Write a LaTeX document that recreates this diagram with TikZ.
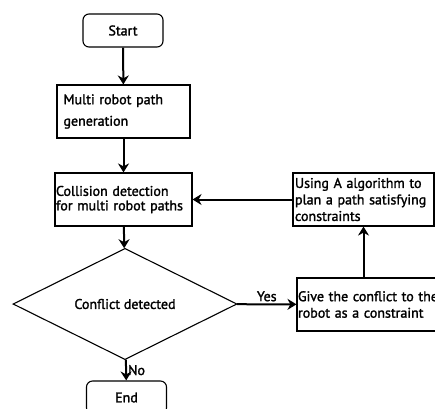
\documentclass[tikz,border=0pt]{standalone}
\usepackage{fontspec}
\setmainfont{PT Sans}[FakeBold=1.6]
\usetikzlibrary{shapes.geometric,arrows.meta}

\begin{document}
\begin{tikzpicture}[x=1pt,y=-1pt,
    font=\fontsize{14}{14.5}\selectfont,
    termbox/.style={draw,line width=1.1pt,rounded corners=6pt,
        minimum width=80pt,minimum height=33pt},
    procbox/.style={draw,line width=1.1pt,align=left,inner ysep=0pt,
        minimum height=53pt},
    decbox/.style={draw,diamond,line width=1.1pt,inner sep=0pt,
        minimum width=224pt,minimum height=80pt},
    flowarr/.style={line width=2pt,-{Stealth[length=9pt,width=11pt]}}
  ]
  \useasboundingbox (0,0) rectangle (435,408);
  % main column
  \node[termbox] (start) at (123,30.5) {Start};
  \node[procbox,minimum width=133pt,text width=120pt,inner xsep=6.5pt]
      (gen) at (123.5,111.5) {Multi robot path\\[7pt]generation};
  \node[procbox,minimum width=137pt,text width=135pt,inner xsep=1pt]
      (coll) at (123.5,199.5) {Collision detection\\for multi robot paths};
  \node[decbox] (conf) at (125,304) {Conflict detected};
  \node[termbox] (end) at (126.5,397.5) {End};
  % right column
  \node[procbox,minimum width=165pt,text width=163pt,inner xsep=1pt]
      (give) at (379.5,304.5) {Give the conflict to the\\[2pt]robot as a constraint};
  \node[procbox,minimum width=141pt,text width=137pt,inner xsep=2pt]
      (using) at (363.5,199.5) {Using A algorithm to\\[2pt]plan a path satisfying\\[2pt]constraints};

  \draw[flowarr] (start) -- (gen);
  \draw[flowarr] (gen) -- (coll);
  \draw[flowarr] (coll) -- (conf);
  \draw[flowarr] (conf) -- node[right,inner sep=1pt]{No} (end);
  \draw[flowarr] (conf) -- node[above,inner sep=2pt]{Yes} (give);
  \draw[flowarr] (give.north -| using) -- (using);
  \draw[flowarr] (using) -- (coll);
\end{tikzpicture}
\end{document}
